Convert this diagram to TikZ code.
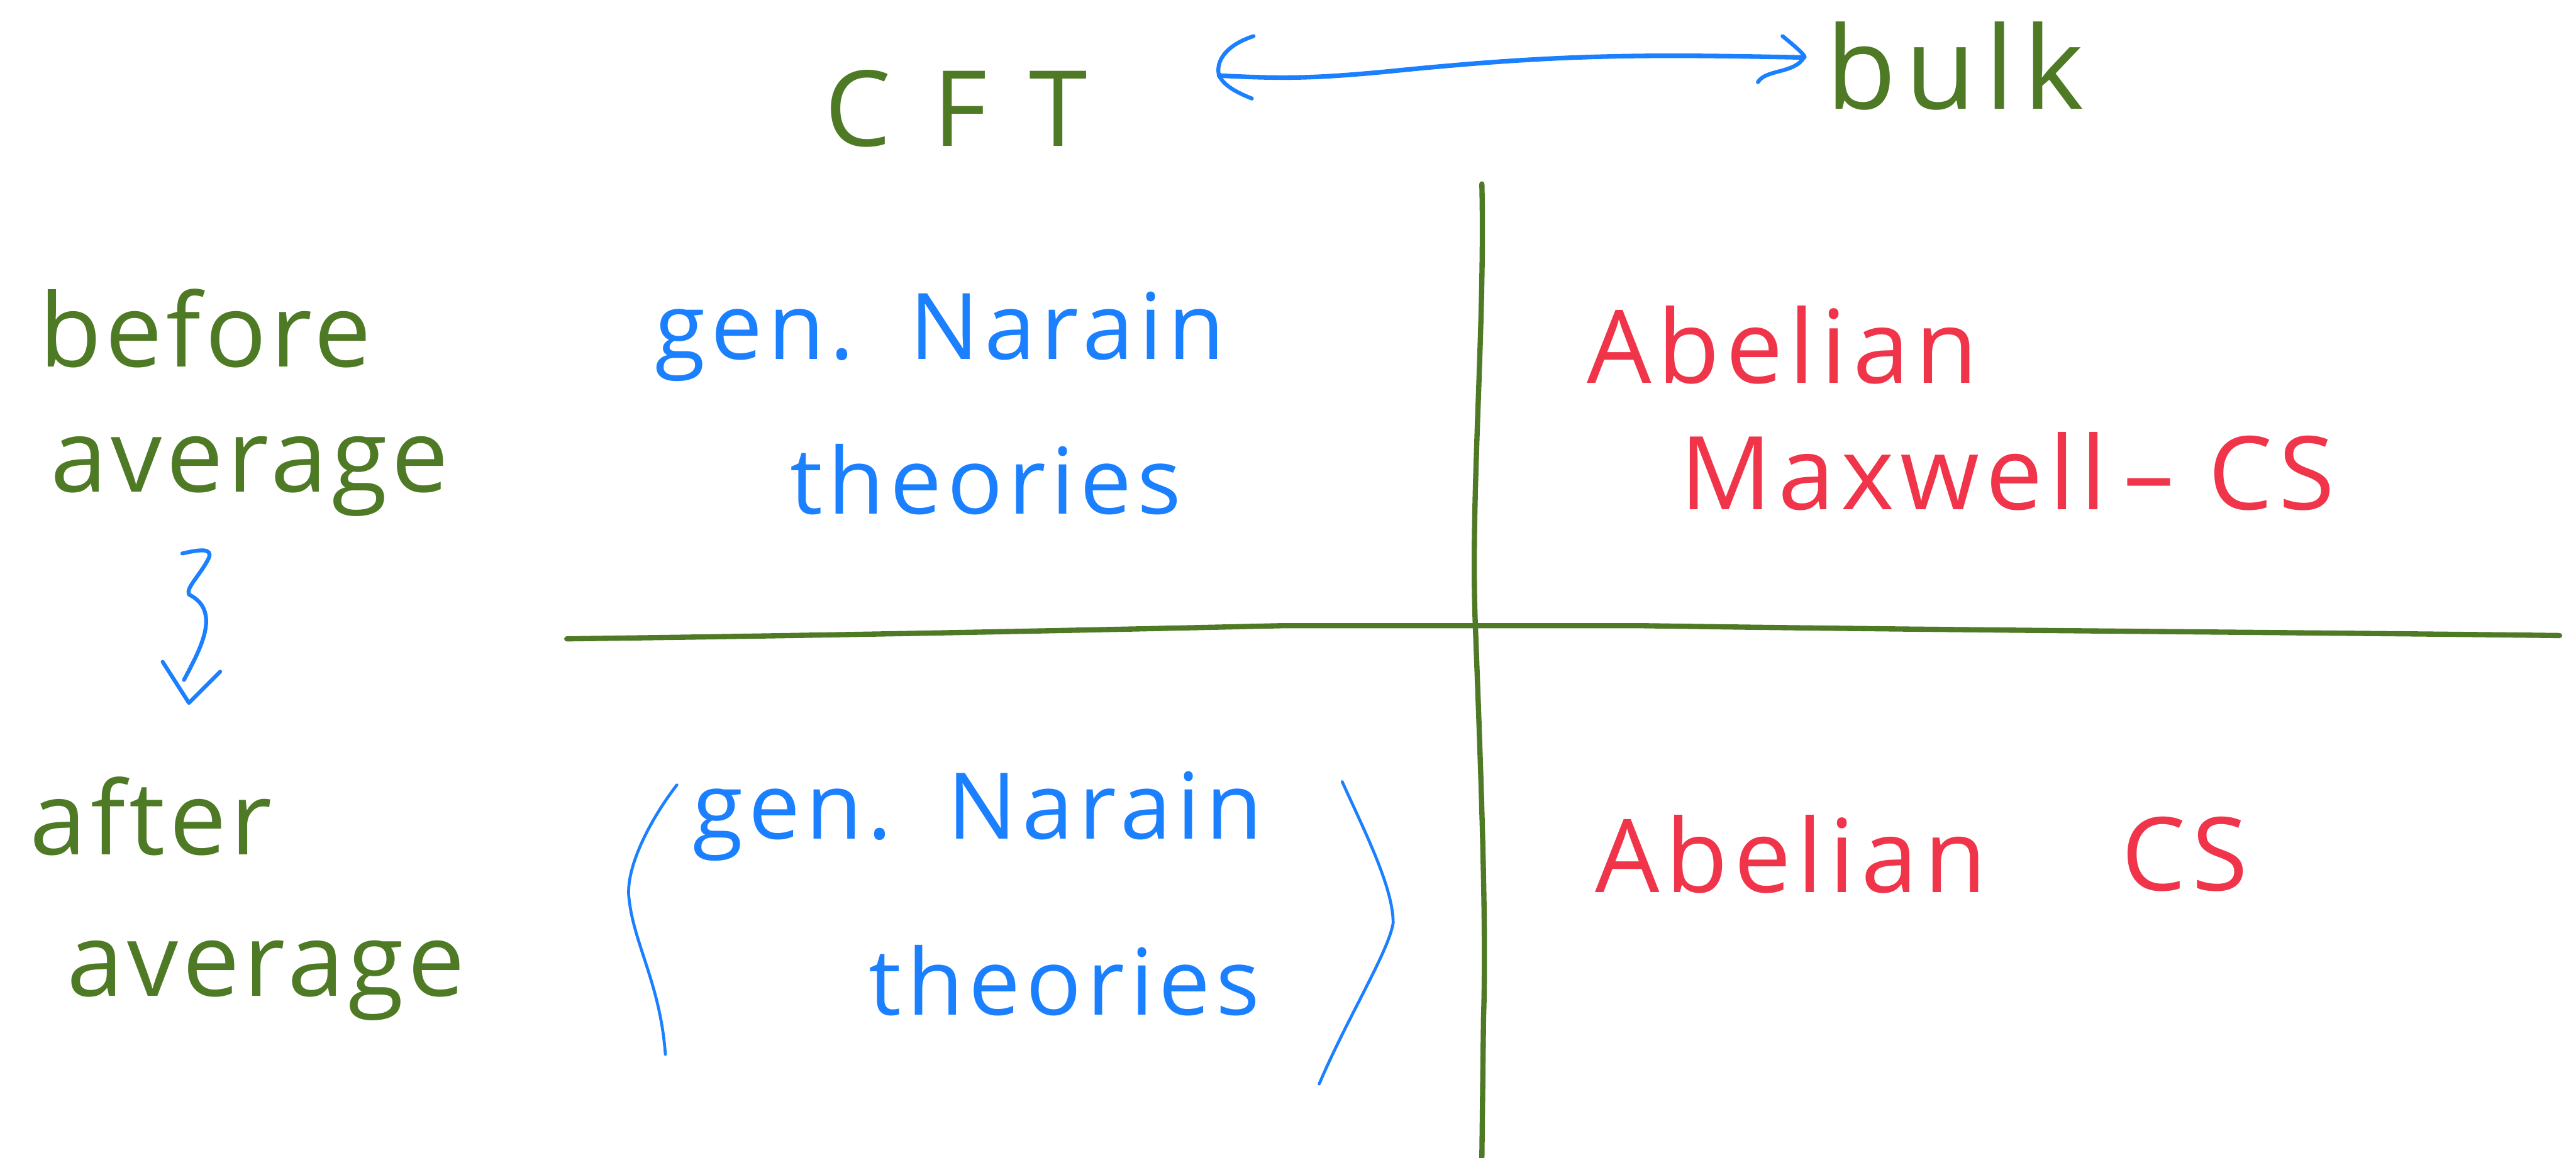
\documentclass[tikz,border=0pt]{standalone}
\usepackage{fontspec}
\setmainfont{Open Sans}
\begin{document}
\definecolor{hgreen}{HTML}{4E7A25}
\definecolor{hblue}{HTML}{1A80FF}
\definecolor{hred}{HTML}{F0344A}
\tikzset{
  gtext/.style={text=hgreen, font=\fontsize{62}{70}\selectfont\addfontfeature{LetterSpace=4}, inner sep=0pt},
  btext/.style={text=hblue, font=\fontsize{56}{66}\selectfont\addfontfeature{LetterSpace=6}, inner sep=0pt},
  rtext/.style={text=hred, font=\fontsize{62}{70}\selectfont\addfontfeature{LetterSpace=6}, inner sep=0pt},
  gline/.style={draw=hgreen, line width=3.2pt, line cap=round, line join=round},
  bline/.style={draw=hblue, line width=2.4pt, line cap=round, line join=round},
}
\begin{tikzpicture}[x=1pt,y=-1pt]
\useasboundingbox (0,0) rectangle (1568,705);
% header
\node[gtext, font=\fontsize{64}{70}\selectfont\addfontfeature{LetterSpace=40}] (cft) at (582,66) {CFT};
\node[gtext, font=\fontsize{70}{80}\selectfont\addfontfeature{LetterSpace=8}] (bulk) at (1190,40) {bulk};
% left labels
\node[gtext] (before) at (125,200) {before};
\node[gtext] (avg1) at (152,290) {average};
\node[gtext] (after) at (92,497) {after};
\node[gtext] (avg2) at (162,597) {average};
% grid lines
\coordinate (vtop) at (902,112);
\coordinate (vbot) at (902,705);
\coordinate (hl) at (345,389);
\coordinate (hr) at (1558,387);
\draw[gline] (vtop) .. controls (904,200) and (895,300) .. (898,380)
  .. controls (901,460) and (905,560) .. (903,620) -- (vbot);
\draw[gline] (hl) .. controls (500,387) and (650,384) .. (780,381)
  -- (1000,381) .. controls (1200,384) and (1400,385) .. (hr);
% cells
\node[btext] (gen1) at (572,205) {gen.\hspace{0.6em}Narain};
\node[btext] (theo1) at (600,292) {theories};
\node[rtext] (abel1) at (1085,210) {Abelian};
\node[rtext] (maxcs) at (1222,287) {Maxwell\,–\,\,CS};
\node[btext] (gen2) at (595,497) {gen.\hspace{0.6em}Narain};
\node[btext] (theo2) at (648,597) {theories};
\node[rtext] (abel2) at (1090,520) {Abelian};
\node[rtext] (cs2) at (1330,520) {CS};
% angle brackets
\coordinate (lb1) at (412,478);
\coordinate (lb2) at (405,642);
\coordinate (rb1) at (817,476);
\coordinate (rb2) at (803,660);
\draw[bline, line width=1.8pt] (lb1) .. controls (395,500) and (380,530) .. (383,548)
  .. controls (386,575) and (402,600) .. (lb2);
\draw[bline, line width=1.8pt] (rb1) .. controls (830,505) and (848,540) .. (848,562)
  .. controls (845,580) and (820,620) .. (rb2);
% double arrow CFT <-> bulk
\coordinate (al) at (742,46);
\coordinate (ar) at (1098,35);
\draw[bline, line width=2.8pt] (al) .. controls (780,48) and (800,48) .. (850,43)
  .. controls (950,33) and (1000,33) .. (ar);
\draw[bline] (763,22) .. controls (745,28) and (740,38) .. (al) .. controls (745,52) and (752,56) .. (762,60);
\draw[bline] (1085,22) .. controls (1095,30) and (1100,35) .. (ar) .. controls (1092,45) and (1075,42) .. (1070,50);
% squiggle arrow
\coordinate (sq1) at (111,337);
\coordinate (sqtip) at (115,428);
\draw[bline] (sq1) .. controls (120,335) and (130,333) .. (127,340)
  .. controls (122,350) and (113,358) .. (115,362)
  .. controls (135,372) and (122,395) .. (112,414);
\draw[bline] (99,403) -- (sqtip) -- (134,409);
\end{tikzpicture}
\end{document}
